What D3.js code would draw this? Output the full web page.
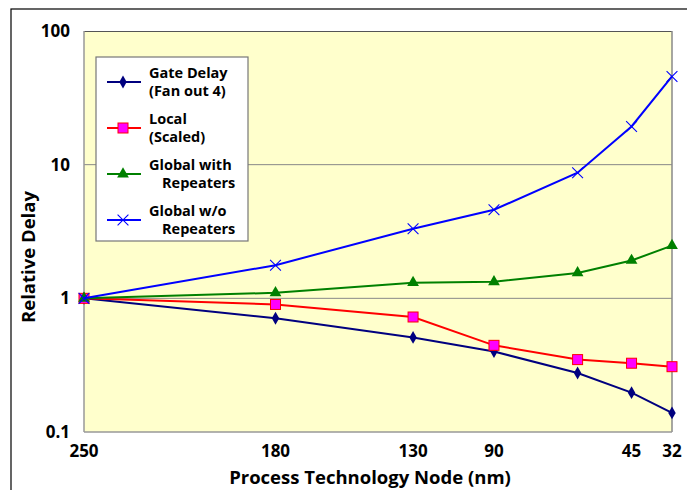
<!DOCTYPE html>
<meta charset="utf-8">
<style>
body { margin: 0; background: #fff; font-family: 'Open Sans', sans-serif; }
.lbl { font-weight: bold; fill: #000; }
</style>
<body>
<div id="chart"></div>
<script src="https://d3js.org/d3.v7.min.js"></script>
<script>
// x position of each node (nm) and its tick label
var nodes = [250, 179, 128, 98, 67, 47, 32];
var nodeLabels = ["250", "180", "130", "90", "", "45", "32"];
var yTicks = [0.1, 1, 10, 100];

var gateDelay = [1, 0.71, 0.51, 0.40, 0.276, 0.197, 0.139];
var localScaled = [1, 0.90, 0.725, 0.445, 0.348, 0.327, 0.308];
var globalRep = [1, 1.10, 1.31, 1.33, 1.55, 1.92, 2.48];
var globalNoRep = [1, 1.77, 3.32, 4.6, 8.7, 19.3, 45.7];

var seriesNames = [["Gate Delay", "(Fan out 4)"], ["Local", "(Scaled)"],
                   ["Global with", "  Repeaters"], ["Global w/o", "  Repeaters"]];
var seriesColors = ["#00007f", "#ff0000", "#008000", "#0000ff"];
var seriesData = [gateDelay, localScaled, globalRep, globalNoRep];
var seriesSymbols = ["diamond", "square", "triangle", "cross"];

var width = 687, height = 490,
    margin = {top: 31, right: 15, bottom: 58, left: 84};
var w = 672 - margin.left, h = 432 - margin.top;

var svg = d3.select("#chart").append("svg")
    .attr("width", width).attr("height", height);

// outer frame
svg.append("rect").attr("x", 11).attr("y", 9)
   .attr("width", 700).attr("height", 500)
   .attr("fill", "none").attr("stroke", "#000").attr("stroke-width", 1.2);

var g = svg.append("g").attr("transform", `translate(${margin.left},${margin.top})`);

var x = d3.scaleLinear().domain([250, 32]).range([0, w]);
var y = d3.scaleLog().domain([0.1, 100]).range([h, 0]);

g.append("rect").attr("width", w).attr("height", h).attr("fill", "#ffffcc");

// gridlines
g.selectAll(".grid").data([1, 10]).enter().append("line")
  .attr("x1", 0).attr("x2", w)
  .attr("y1", d => y(d)).attr("y2", d => y(d))
  .attr("stroke", "#888").attr("stroke-width", 1);

// plot border
g.append("line").attr("x1", 0).attr("x2", w).attr("y1", 0.5).attr("y2", 0.5).attr("stroke", "#555");
g.append("line").attr("x1", w).attr("x2", w).attr("y1", 0).attr("y2", h).attr("stroke", "#888").attr("stroke-width", 1.5);
g.append("line").attr("x1", 0).attr("x2", 0).attr("y1", 0).attr("y2", h).attr("stroke", "#999").attr("stroke-width", 1.5);
g.append("line").attr("x1", 0).attr("x2", w).attr("y1", h).attr("y2", h).attr("stroke", "#999").attr("stroke-width", 1.5);

// y tick labels
g.selectAll(".ytick").data(yTicks).enter().append("text")
  .attr("class", "lbl").attr("x", -14).attr("y", d => y(d)).attr("dy", "0.35em")
  .attr("text-anchor", "end").attr("font-size", 17)
  .text(d => d3.format("~g")(d));

// x tick labels
g.selectAll(".xtick").data(nodes).enter().append("text")
  .attr("class", "lbl").attr("x", d => x(d)).attr("y", h + 25)
  .attr("text-anchor", "middle").attr("font-size", 17)
  .text((d, i) => nodeLabels[i]);

// axis titles
svg.append("text").attr("class", "lbl").attr("x", 370).attr("y", 484)
   .attr("text-anchor", "middle").attr("font-size", 18.5)
   .text("Process Technology Node (nm)");
svg.append("text").attr("class", "lbl")
   .attr("transform", "translate(35,257) rotate(-90)")
   .attr("text-anchor", "middle").attr("font-size", 18.5)
   .text("Relative Delay");

function marker(sel, type, color, size) {
  if (type === "cross") {
    sel.append("path").attr("d", d3.symbol(d3.symbolX, size * 1.3)())
       .attr("fill", "none").attr("stroke", color).attr("stroke-width", 1.1);
  } else if (type === "square") {
    sel.append("rect").attr("x", -5).attr("y", -5).attr("width", 10).attr("height", 10)
       .attr("fill", "#ff00ff").attr("stroke", "#ff0000").attr("stroke-width", 1);
  } else if (type === "triangle") {
    sel.append("path").attr("d", d3.symbol(d3.symbolTriangle, size)()).attr("fill", color);
  } else {
    sel.append("path").attr("d", d3.symbol(d3.symbolDiamond, size * 0.8)()).attr("fill", color);
  }
}

var line = d3.line().x(d => x(d[0])).y(d => y(d[1]));

seriesData.forEach(function(vals, s) {
  var pts = nodes.map((n, i) => [n, vals[i]]);
  g.append("path").datum(pts).attr("d", line)
   .attr("fill", "none").attr("stroke", seriesColors[s]).attr("stroke-width", 2);
  pts.forEach(function(p) {
    var m = g.append("g").attr("transform", `translate(${x(p[0])},${y(p[1])})`);
    marker(m, seriesSymbols[s], seriesColors[s], 60);
  });
});

// legend
var lg = svg.append("g").attr("transform", "translate(96,57)");
lg.append("rect").attr("width", 152).attr("height", 184)
  .attr("fill", "#fff").attr("stroke", "#777").attr("stroke-width", 1.2);
seriesNames.forEach(function(nm, s) {
  var yy = 25 + s * 46;
  lg.append("line").attr("x1", 11).attr("x2", 45).attr("y1", yy).attr("y2", yy)
    .attr("stroke", seriesColors[s]).attr("stroke-width", 2.2);
  var m = lg.append("g").attr("transform", `translate(27,${yy})`);
  marker(m, seriesSymbols[s], seriesColors[s], 60);
  var t = lg.append("text").attr("class", "lbl").attr("font-size", 14.5)
    .attr("x", 53).attr("y", yy - 4);
  t.append("tspan").attr("x", 53).text(nm[0]);
  t.append("tspan").attr("x", nm[1].startsWith(" ") ? 66 : 53).attr("dy", 18).text(nm[1].trim());
});
</script>
</body>
